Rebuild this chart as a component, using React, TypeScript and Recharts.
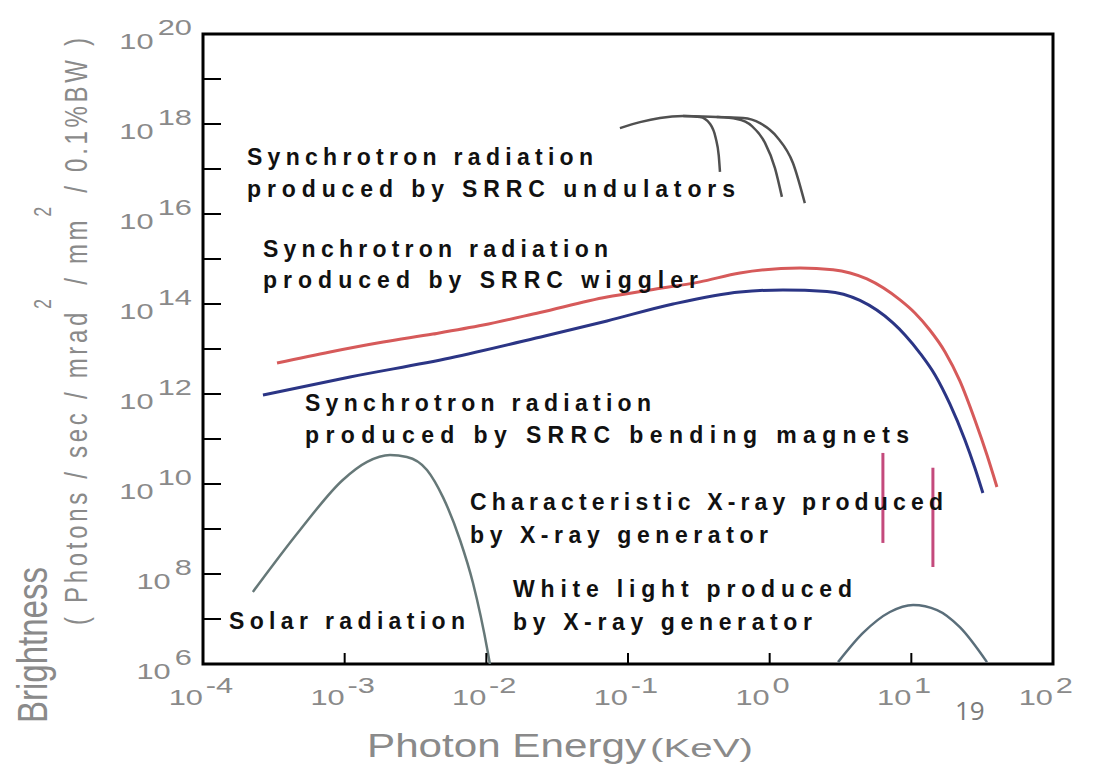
import React from 'react';
import { LineChart, Line, XAxis, YAxis, ReferenceArea } from 'recharts';

// photon energy in keV, brightness in photons/s/mrad²/mm²/0.1%BW
const undulatorAEnergy = [0.0877, 0.1216, 0.168, 0.245, 0.322, 0.38, 0.416, 0.437, 0.446];
const undulatorABrightness = [8.1e17, 1.1e18, 1.36e18, 1.5e18, 1.43e18, 1.0e18, 4.9e17, 2.0e17, 8.6e16];

const undulatorBEnergy = [0.245, 0.423, 0.587, 0.75, 0.927, 1.09, 1.22];
const undulatorBBrightness = [1.5e18, 1.43e18, 1.29e18, 9.0e17, 3.8e17, 1.05e17, 2.4e16];

const undulatorCEnergy = [0.423, 0.649, 0.855, 1.13, 1.46, 1.77];
const undulatorCBrightness = [1.43e18, 1.36e18, 1.05e18, 5.1e17, 1.36e17, 1.75e16];

const wigglerEnergy = [3.33e-4, 7.88e-4, 1.87e-3, 4.2e-3, 9.5e-3, 0.0239, 0.0711, 0.143, 0.322, 0.617, 1.64, 2.8, 4.86, 8.32, 10.6, 13.5, 17.3, 22.0, 28.1, 34.2, 40.2];
const wigglerBrightness = [4.9e12, 8.6e12, 1.43e13, 2.15e13, 3.4e13, 6.5e13, 1.43e14, 2.05e14, 3.1e14, 4.9e14, 6.3e14, 5.8e14, 3.6e14, 1.23e14, 6.3e13, 2.64e13, 8.6e12, 1.95e12, 2.64e11, 4.4e10, 8.6e9];

const bendingEnergy = [2.65e-4, 1.09e-3, 5.54e-3, 0.0259, 0.0711, 0.208, 0.617, 1.24, 2.54, 4.34, 7.42, 9.02, 11.5, 14.7, 18.7, 23.9, 28.1, 32.0];
const bendingBrightness = [9.5e11, 2.39e12, 6.3e12, 1.95e13, 4.2e13, 1.0e14, 1.85e14, 2.05e14, 1.9e14, 1.2e14, 3.8e13, 2.05e13, 8.1e12, 2.64e12, 6.0e11, 9.5e10, 2.27e10, 6.3e9];

const solarEnergy = [2.25e-4, 4.84e-4, 9.7e-4, 1.44e-3, 2.09e-3, 2.75e-3, 3.81e-3, 4.94e-3, 6.52e-3, 8.05e-3, 0.01027, 0.0106];
const solarBrightness = [4.0e7, 9.5e8, 1.23e10, 3.1e10, 4.4e10, 4.0e10, 2.05e10, 5.1e9, 5.7e8, 6.3e7, 1.75e6, 1.0e6];

const whiteLightEnergy = [3.04, 4.56, 7.06, 10.3, 15.2, 22.0, 34.2];
const whiteLightBrightness = [1.1e6, 4.9e6, 1.43e7, 2.05e7, 1.58e7, 6.6e6, 1.1e6];

// characteristic lines: energy, top and bottom of the mark
const lineEnergies = [6.3, 14.2];
const lineTops = [4.9e10, 2.3e10];
const lineBottoms = [4.9e8, 1.43e8];

const energyTicks = [1e-4, 1e-3, 1e-2, 1e-1, 1, 10, 100];
const brightnessTicks = [1e6, 1e7, 1e8, 1e9, 1e10, 1e11, 1e12, 1e13, 1e14, 1e15, 1e16, 1e17, 1e18, 1e19, 1e20];

const toPoints = (es: number[], bs: number[]) => es.map((e, i) => ({ e, b: bs[i] }));

const FONT = '"Liberation Sans", Arial, sans-serif';
const AXIS_GRAY = '#8a8a8a';

function EnergyTick({ x, y, payload }: any) {
  const exp = Math.round(Math.log10(payload.value));
  return (
    <g transform={`translate(${x},${y}) scale(1.4,1)`}>
      <text x={0} y={31} textAnchor="end" fontSize={22} fill={AXIS_GRAY} fontFamily={FONT}>
        10
      </text>
      <text x={2} y={19} textAnchor="start" fontSize={22} fill={AXIS_GRAY} fontFamily={FONT}>
        {exp}
      </text>
    </g>
  );
}

function BrightnessTick({ x, y, payload }: any) {
  const exp = Math.round(Math.log10(payload.value));
  if (exp % 2 !== 0) return <g />;
  return (
    <g transform={`translate(${x},${y}) scale(1.4,1)`}>
      <text x={0} y={15} textAnchor="end" fontSize={22} fill={AXIS_GRAY} fontFamily={FONT}>
        10
        <tspan dx={3} dy={-14}>
          {exp}
        </tspan>
      </text>
    </g>
  );
}

// labels inside the plot: start x, baseline y, stretched width
const notes = [
  { text: 'Synchrotron radiation', x: 247, y: 165, w: 346 },
  { text: 'produced by SRRC undulators', x: 247, y: 197, w: 488 },
  { text: 'Synchrotron radiation', x: 263, y: 257, w: 345 },
  { text: 'produced by SRRC wiggler', x: 263, y: 288, w: 435 },
  { text: 'Synchrotron radiation', x: 305, y: 411, w: 346 },
  { text: 'produced by SRRC bending magnets', x: 305, y: 443, w: 604 },
  { text: 'Characteristic X-ray produced', x: 470, y: 510, w: 473 },
  { text: 'by X-ray generator', x: 470, y: 543, w: 298 },
  { text: 'White light produced', x: 513, y: 597, w: 339 },
  { text: 'by X-ray generator', x: 513, y: 630, w: 299 },
  { text: 'Solar radiation', x: 229, y: 629, w: 236 },
];

export default function App() {
  const seriesStyle = { dot: false, isAnimationActive: false } as const;
  return (
    <div style={{ position: 'absolute', left: 0, top: 0, width: 1101, height: 764, background: '#fff' }}>
      <LineChart width={1101} height={764} margin={{ top: 34, right: 48, bottom: 40, left: 103 }}>
        <XAxis
          dataKey="e"
          type="number"
          scale="log"
          domain={[1e-4, 1e2]}
          allowDataOverflow
          ticks={energyTicks}
          interval={0}
          height={60}
          axisLine={false}
          tickSize={-11}
          tickMargin={21}
          tickLine={{ stroke: '#000', strokeWidth: 2 }}
          tick={(p: any) => <EnergyTick {...p} />}
        />
        <YAxis
          dataKey="b"
          type="number"
          scale="log"
          domain={[1e6, 1e20]}
          allowDataOverflow
          ticks={brightnessTicks}
          interval={0}
          width={100}
          axisLine={false}
          tickSize={-18}
          tickMargin={29}
          tickLine={{ stroke: '#000', strokeWidth: 2 }}
          tick={(p: any) => <BrightnessTick {...p} />}
        />
        <ReferenceArea x1={1e-4} x2={1e2} y1={1e6} y2={1e20} fill="none" stroke="#000" strokeWidth={3} ifOverflow="visible" />

        <Line data={toPoints(undulatorAEnergy, undulatorABrightness)} dataKey="b" type="monotone" stroke="#505050" strokeWidth={2.5} {...seriesStyle} />
        <Line data={toPoints(undulatorBEnergy, undulatorBBrightness)} dataKey="b" type="monotone" stroke="#505050" strokeWidth={2.5} {...seriesStyle} />
        <Line data={toPoints(undulatorCEnergy, undulatorCBrightness)} dataKey="b" type="monotone" stroke="#505050" strokeWidth={2.5} {...seriesStyle} />
        <Line data={toPoints(wigglerEnergy, wigglerBrightness)} dataKey="b" type="monotone" stroke="#d65a5a" strokeWidth={3} {...seriesStyle} />
        <Line data={toPoints(bendingEnergy, bendingBrightness)} dataKey="b" type="monotone" stroke="#2b3585" strokeWidth={3} {...seriesStyle} />
        <Line data={toPoints(solarEnergy, solarBrightness)} dataKey="b" type="monotone" stroke="#667878" strokeWidth={2.5} {...seriesStyle} />
        <Line data={toPoints(whiteLightEnergy, whiteLightBrightness)} dataKey="b" type="monotone" stroke="#5a6e7a" strokeWidth={2.5} {...seriesStyle} />
        {lineEnergies.map((e, i) => (
          <Line
            key={e}
            data={[{ e, b: lineTops[i] }, { e, b: lineBottoms[i] }]}
            dataKey="b"
            type="linear"
            stroke="#c44a7c"
            strokeWidth={3}
            {...seriesStyle}
          />
        ))}
      </LineChart>

      <svg width={1101} height={764} style={{ position: 'absolute', left: 0, top: 0, pointerEvents: 'none' }}>
        {notes.map((n, i) => (
          <text
            key={i}
            x={n.x}
            y={n.y}
            textLength={n.w}
            lengthAdjust="spacing"
            fontSize={23}
            fontWeight="bold"
            fontFamily={FONT}
            fill="#111"
          >
            {n.text}
          </text>
        ))}

        <g transform="translate(47,723) scale(1.3,1) rotate(-90)">
          <text x={0} y={0} fontSize={32} textLength={156} lengthAdjust="spacingAndGlyphs" fill={AXIS_GRAY} fontFamily={FONT}>
            Brightness
          </text>
        </g>
        <g transform="translate(87,625) scale(1.3,1) rotate(-90)">
          <text x={0} y={0} fontSize={24} textLength={587} lengthAdjust="spacing" fill={AXIS_GRAY} fontFamily={FONT}>
            {'( Photons / sec / mrad'}
            <tspan fontSize={18} dy={-28}>2</tspan>
            <tspan dy={28}>{' / mm'}</tspan>
            <tspan fontSize={18} dy={-28}>2</tspan>
            <tspan dy={28}>{' / 0.1%BW )'}</tspan>
          </text>
        </g>

        <text x={367} y={757} fontSize={33} textLength={279} lengthAdjust="spacingAndGlyphs" fill={AXIS_GRAY} fontFamily={FONT}>
          Photon Energy
        </text>
        <text x={650} y={757} fontSize={26} textLength={103} lengthAdjust="spacingAndGlyphs" fill={AXIS_GRAY} fontFamily={FONT}>
          (KeV)
        </text>

        <text x={955} y={720} fontSize={26} fill="#7a7a7a" fontFamily='"Open Sans", sans-serif'>
          19
        </text>
      </svg>
    </div>
  );
}
